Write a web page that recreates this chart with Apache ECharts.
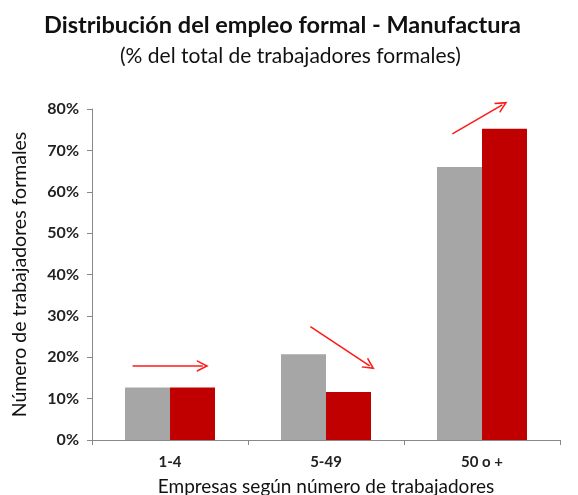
<!DOCTYPE html>
<html>
<head>
<meta charset="utf-8">
<script src="https://cdn.jsdelivr.net/npm/echarts@6/dist/echarts.min.js"></script>
<style>
  html, body { margin: 0; padding: 0; background: #fff; }
  #chart { width: 578px; height: 495px; }
</style>
</head>
<body>
<div id="chart"></div>
<script>
// categories and values (% of formal workers)
const categories = ['1-4', '5-49', '50 o +'];
const grayValues = [12.7, 20.7, 66.0];
const redValues = [12.7, 11.6, 75.2];
const yTicks = [0, 10, 20, 30, 40, 50, 60, 70, 80];

// trend arrows, in (category index, %) units
const arrows = [
  [[-0.24, 17.9], [0.21, 17.9]],
  [[0.90, 27.4], [1.28, 17.9]],
  [[1.81, 74.0], [2.13, 81.0]]
];

const chart = echarts.init(document.getElementById('chart'));

const font = 'Lato';
// thin open arrow head
const chevron = 'path://M0,10 L5,0 L10,10 L8.6,10 L5,3 L1.4,10 Z';

const option = {
  animation: false,
  title: [
    {
      text: 'Distribución del empleo formal - Manufactura',
      left: 39,
      top: 8,
      textStyle: { fontFamily: font, fontSize: 23.5, fontWeight: 'bold', color: '#111' }
    },
    {
      text: '(% del total de trabajadores formales)',
      left: 115,
      top: 41,
      textStyle: { fontFamily: font, fontSize: 21, fontWeight: 'normal', color: '#111' }
    }
  ],
  grid: { left: 92, right: 18, top: 109, bottom: 55, outerBoundsMode: 'none' },
  xAxis: [
    {
      type: 'category',
      data: categories,
      axisLine: { lineStyle: { color: '#888', width: 1 } },
      axisTick: { show: true, length: 5, lineStyle: { color: '#888' } },
      axisLabel: { fontFamily: font, fontSize: 15, fontWeight: 'bold', color: '#222', margin: 15 },
      name: 'Empresas según número de trabajadores',
      nameLocation: 'middle',
      nameGap: 37,
      nameTextStyle: { fontFamily: font, fontSize: 19, color: '#111' }
    },
    { type: 'value', min: -0.5, max: 2.5, show: false }
  ],
  yAxis: [
    {
      type: 'value',
      min: 0,
      max: 80,
      interval: 10,
      splitLine: { show: false },
      axisLine: { show: true, onZero: false, lineStyle: { color: '#888', width: 1 } },
      axisTick: { show: true, length: 5, lineStyle: { color: '#888' } },
      axisLabel: {
        fontFamily: font, fontSize: 16, fontWeight: 'bold', color: '#222', margin: 13,
        formatter: v => yTicks.includes(v) ? v + '%' : ''
      },
      name: 'Número de trabajadores formales',
      nameLocation: 'middle',
      nameGap: 62,
      nameRotate: 90,
      nameTextStyle: { fontFamily: font, fontSize: 19.5, color: '#111' }
    },
    { type: 'value', min: 0, max: 80, show: false }
  ],
  series: [
    {
      type: 'bar',
      data: grayValues,
      barWidth: 45,
      barGap: '0%',
      itemStyle: { color: '#a6a6a6' }
    },
    {
      type: 'bar',
      data: redValues,
      barWidth: 45,
      barGap: '0%',
      itemStyle: { color: '#c00000' }
    },
    {
      type: 'lines',
      coordinateSystem: 'cartesian2d',
      xAxisIndex: 1,
      yAxisIndex: 1,
      clip: false,
      symbol: ['none', chevron],
      symbolSize: 12,
      lineStyle: { color: '#ff1a1a', width: 1.6, opacity: 1, curveness: 0 },
      data: arrows.map(a => ({ coords: a }))
    }
  ]
};

chart.setOption(option);
</script>
</body>
</html>
